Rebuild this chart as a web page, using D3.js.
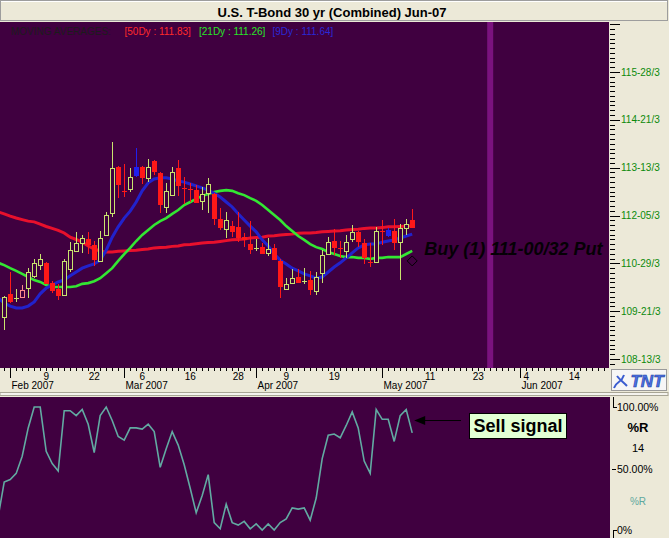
<!DOCTYPE html>
<html><head><meta charset="utf-8">
<script src="https://cdn.jsdelivr.net/npm/d3@7"></script>
<style>
body{margin:0;background:#ECE9D8;}
svg{display:block;font-family:"Liberation Sans",Arial,Helvetica,sans-serif;}
</style></head>
<body><svg id="c" width="669" height="538"></svg>
<script>
// ---------------- DATA ----------------
const title = "U.S. T-Bond 30 yr (Combined) Jun-07";
// candles: index 0 = Jan 31 2007, index 1 = Feb 1 2007 (trading days)
const open = [109.51,110.12,110.01,110.04,110.27,110.59,110.87,110.93,110.40,110.25,
  110.09,110.77,111.24,111.45,111.55,111.40,110.98,111.66,112.23,113.43,
  112.81,112.86,113.43,113.43,113.15,113.59,113.28,112.39,112.70,113.41,
  112.89,112.86,112.83,112.55,112.75,112.73,112.08,111.81,111.89,111.87,
  111.60,111.42,111.32,111.34,111.19,111.32,110.98,110.25,110.40,110.56,
  110.45,110.48,110.19,110.66,111.16,111.50,111.32,111.24,111.55,111.74,
  111.45,110.95,110.95,111.76,111.79,111.76,111.47,111.84,112.05];
const high = [110.06,110.69,110.25,110.35,110.79,111.03,111.16,110.95,110.45,110.38,
  111.03,111.47,111.74,111.66,111.74,111.50,111.76,112.26,114.09,113.46,
  113.51,113.41,113.93,113.46,113.64,113.62,113.30,113.02,113.43,113.62,
  113.17,113.02,112.96,112.91,113.15,112.75,112.36,112.26,112.02,112.26,
  111.71,112.02,111.55,111.45,111.58,111.42,111.03,110.53,110.77,110.77,
  110.79,110.72,110.69,111.26,111.60,111.81,111.50,111.66,111.92,111.76,
  111.55,111.45,111.87,112.05,111.84,112.08,111.94,112.08,112.34];
const low = [109.17,109.88,109.91,110.04,110.01,110.53,110.74,110.38,110.14,109.96,
  110.06,110.69,111.21,111.19,111.16,110.85,110.95,111.63,112.13,112.62,
  112.65,112.78,113.17,112.99,113.04,113.22,112.23,112.23,112.68,112.68,
  112.47,112.52,112.49,112.31,112.23,111.92,111.79,111.58,111.60,111.47,
  111.34,111.16,111.24,111.16,111.11,111.03,110.01,110.25,110.38,110.40,
  110.38,110.09,110.09,110.40,111.13,111.13,111.06,111.06,111.47,111.34,
  110.90,110.82,110.93,111.40,111.60,111.26,110.48,111.66,111.84];
const close = [110.04,109.93,110.01,110.22,110.69,110.93,111.03,110.40,110.22,110.09,
  110.98,111.26,111.45,111.58,111.42,111.03,111.58,112.18,113.41,112.99,
  112.81,113.17,113.22,113.17,113.43,113.33,112.47,112.81,113.30,112.96,
  112.89,112.86,112.52,112.73,112.99,112.10,111.87,112.05,111.76,111.60,
  111.55,111.29,111.32,111.19,111.29,111.03,110.32,110.38,110.53,110.43,
  110.45,110.25,110.56,111.13,111.47,111.34,111.32,111.47,111.74,111.50,
  111.08,110.95,111.76,111.76,111.66,111.47,111.84,111.94,111.87];
// candle kind: u = up (hollow), d = down (filled red), b = filled blue, p = hollow pink
const kind = ["u","d","u","p","u","u","u","d","d","d",
  "u","u","u","u","d","d","u","u","u","d",
  "d","u","b","d","u","d","d","u","u","d",
  "d","d","d","u","u","d","d","u","d","d",
  "d","d","u","d","u","d","d","u","u","d",
  "u","d","u","u","u","d","d","u","u","d",
  "d","d","u","d","b","d","u","u","d"];
// moving averages and %R start one trading day before the first candle
const seriesStart = -1;
const ma50 = [112.26,112.21,112.15,112.10,112.06,112.02,112.00,111.94,111.88,111.83,
  111.78,111.71,111.60,111.54,111.47,111.37,111.29,111.24,111.21,111.21,
  111.23,111.24,111.25,111.26,111.28,111.29,111.32,111.33,111.34,111.36,
  111.37,111.40,111.41,111.43,111.45,111.46,111.47,111.49,111.51,111.53,
  111.54,111.55,111.58,111.59,111.60,111.63,111.64,111.66,111.67,111.68,
  111.70,111.71,111.71,111.72,111.74,111.75,111.76,111.77,111.79,111.80,
  111.81,111.83,111.84,111.84,111.85,111.87,111.87,111.88,111.89,111.89];
const ma21 = [110.93,110.87,110.79,110.72,110.64,110.56,110.48,110.43,110.35,110.30,
  110.30,110.30,110.30,110.32,110.38,110.40,110.45,110.53,110.66,110.79,
  110.98,111.16,111.32,111.50,111.66,111.79,111.92,112.02,112.10,112.21,
  112.31,112.44,112.52,112.60,112.68,112.73,112.78,112.81,112.83,112.81,
  112.75,112.70,112.62,112.55,112.44,112.31,112.18,112.05,111.89,111.76,
  111.63,111.53,111.42,111.34,111.29,111.21,111.16,111.11,111.08,111.08,
  111.06,111.06,111.03,111.06,111.06,111.08,111.08,111.08,111.16,111.24];
const ma9 = [110.01,109.88,109.80,109.75,109.75,109.80,109.91,110.12,110.27,110.35,
  110.43,110.48,110.59,110.69,110.79,110.85,110.90,111.00,111.26,111.60,
  111.87,112.10,112.28,112.52,112.81,113.02,113.12,113.15,113.15,113.12,
  113.07,113.04,112.99,112.94,112.89,112.83,112.75,112.65,112.52,112.39,
  112.21,112.05,111.89,111.74,111.53,111.37,111.16,111.00,110.90,110.79,
  110.72,110.64,110.59,110.53,110.56,110.69,110.82,110.93,111.06,111.19,
  111.32,111.40,111.42,111.42,111.47,111.50,111.53,111.58,111.63,111.68];
const pctR = [11,39,41,46,60,83,100,100,64,54,
  48,97,97,93,98,86,63,93,100,89,
  76,73,83,83,82,86,80,51,66,80,
  69,53,34,14,28,45,6,1,21,6,
  4,7,1,5,0,5,0,6,9,18,
  17,18,8,26,58,77,78,75,85,96,
  83,56,46,98,90,90,72,93,98,79];
const legendItems = ["MOVING AVERAGES:","[50Dy : 111.83]","[21Dy : 111.26]","[9Dy : 111.64]"];
const priceTickValues = [108.4167,109.6667,110.9167,112.1667,113.4167,114.6667,115.9167];
const priceTickLabels = ["108-13/3","109-21/3","110-29/3","112-05/3","113-13/3","114-21/3","115-28/3"];
const monthLabels = ["Feb 2007","Mar 2007","Apr 2007","May 2007","Jun 2007"];
const monthIdx = [1,20,42,63,86];
const dayLabels = ["9","22","6","16","28","9","19","11","23","4","14"];
const dayIdx = [7,15,23,31,39,47,55,71,79,87,95];
const markerIdx = 81;           // highlighted future day (May 25)
const buyText = "Buy (1) 111-00/32 Put";
const buyIdx = 68, buyPrice = 110.98;
const sellText = "Sell signal";
const sellIdx = 68, sellLevel = 89;
const rTickValues = [100,50,0];
const rTickLabels = ["100.00%","50.00%","0%"];

// ---------------- LAYOUT ----------------
const svg = d3.select("#c");
const BG = "#400040", PANEL = "#ECE9D8";
const UP = "#c8e46e", DN = "#ff1818", BLUE = "#2020ee", PINK = "#ff8c8c";
const P = {x0:0, x1:609, y0:22, y1:368};
const L = {x0:0, x1:610, y0:397, y1:538};

const x = d3.scaleLinear().domain([-0.7, 100.8]).range([0, 609]);
const y = d3.scaleLinear().domain([108.4167, 115.9167]).range([359, 72]);
const yR = d3.scaleLinear().domain([0, 100]).range([530, 407]);

svg.append("rect").attr("width",669).attr("height",538).attr("fill",PANEL);

// title bar
svg.append("rect").attr("x",0.5).attr("y",0.5).attr("width",667).attr("height",20)
  .attr("fill",PANEL).attr("stroke","#9d9d9d");
svg.append("line").attr("x1",1).attr("x2",667).attr("y1",1.5).attr("y2",1.5).attr("stroke","#fff");
svg.append("text").attr("x",332).attr("y",17).attr("text-anchor","middle")
  .attr("font-weight","bold").attr("font-size",13).attr("fill","#000").text(title);

// main plot
const defs = svg.append("defs");
defs.append("clipPath").attr("id","cp").append("rect")
  .attr("x",P.x0).attr("y",P.y0).attr("width",P.x1-P.x0).attr("height",P.y1-P.y0);
defs.append("clipPath").attr("id","cl").append("rect")
  .attr("x",L.x0).attr("y",L.y0).attr("width",L.x1-L.x0).attr("height",L.y1-L.y0);

svg.append("rect").attr("x",P.x0).attr("y",P.y0).attr("width",P.x1-P.x0).attr("height",P.y1-P.y0).attr("fill",BG);
const g = svg.append("g").attr("clip-path","url(#cp)");

g.append("rect").attr("x",x(markerIdx-0.5)).attr("y",P.y0)
  .attr("width",x(markerIdx+0.5)-x(markerIdx-0.5)).attr("height",P.y1-P.y0)
  .attr("fill","#7a127e");

// legend
const legendX = [11,124.5,199,272.5];
const legendC = ["#1c1c1c","#ff2a2a","#28e628","#2a2ad6"];
legendItems.forEach((t,i)=>{
  svg.append("text").attr("x",legendX[i]).attr("y",34.5).attr("font-size",10)
    .attr("fill",legendC[i]).text(t);
});

// moving averages
const line = d3.line().x((d,i)=>x(i+seriesStart)).y(d=>y(d));
g.append("path").datum(ma50).attr("d",line).attr("fill","none").attr("stroke","#e8102c").attr("stroke-width",3);
g.append("path").datum(ma21).attr("d",line).attr("fill","none").attr("stroke","#33e633").attr("stroke-width",2.6);
g.append("path").datum(ma9).attr("d",line).attr("fill","none").attr("stroke","#2222cc").attr("stroke-width",3);

// candles
const colorOf = k => k==="u"?UP : k==="d"?DN : k==="b"?BLUE : PINK;
const cg = g.append("g").attr("shape-rendering","crispEdges");
open.forEach((o,i)=>{
  const c = close[i], k = kind[i], col = colorOf(k);
  const cx = Math.round(x(i)) + 0.5;
  const top = y(Math.max(o,c)), bot = y(Math.min(o,c));
  cg.append("line").attr("x1",cx).attr("x2",cx).attr("y1",y(high[i])).attr("y2",y(low[i]))
    .attr("stroke",col).attr("stroke-width",1);
  if (bot - top < 1.5) {
    cg.append("line").attr("x1",cx-2.5).attr("x2",cx+2.5).attr("y1",Math.round(top)+0.5).attr("y2",Math.round(top)+0.5)
      .attr("stroke",col).attr("stroke-width",1);
  } else if (k==="u" || k==="p") {
    cg.append("rect").attr("x",cx-2).attr("y",Math.round(top)+0.5).attr("width",4).attr("height",Math.round(bot-top))
      .attr("fill",BG).attr("stroke",col).attr("stroke-width",1);
  } else {
    cg.append("rect").attr("x",cx-2.5).attr("y",Math.round(top)).attr("width",5).attr("height",Math.round(bot-top)+1)
      .attr("fill",col);
  }
});

// buy annotation
const bx = x(buyIdx), by = y(buyPrice);
g.append("path").attr("d",`M${bx},${by-5}L${bx+5},${by}L${bx},${by+5}L${bx-5},${by}Z`)
  .attr("fill","none").attr("stroke","#000").attr("stroke-width",1);
g.append("text").attr("x",bx+12).attr("y",by-6).attr("font-size",18).attr("font-weight","bold")
  .attr("font-style","italic").attr("fill","#050005").text(buyText);

// right price axis
const ax = svg.append("g").attr("shape-rendering","crispEdges");
for (let k=-2;k<=75;k++){
  const v = priceTickValues[0] + k*0.125, yy = y(v);
  if (yy < P.y0+1 || yy > P.y1-1) continue;
  const major = (k%10===0);
  ax.append("line").attr("x1",610).attr("x2",major?620:615).attr("y1",Math.round(yy)+0.5).attr("y2",Math.round(yy)+0.5)
    .attr("stroke","#000");
}
priceTickValues.forEach((v,i)=>{
  svg.append("text").attr("x",621).attr("y",y(v)+3.5).attr("font-size",10).attr("fill","#0b8a0b").text(priceTickLabels[i]);
});

// x axis
for (let i=0;i<=100;i++){
  ax.append("line").attr("x1",Math.round(x(i))+0.5).attr("x2",Math.round(x(i))+0.5).attr("y1",368).attr("y2",371).attr("stroke","#000");
}
monthIdx.forEach((m,i)=>{
  const xx = Math.round(x(m))+0.5;
  ax.append("line").attr("x1",xx).attr("x2",xx).attr("y1",368).attr("y2",378).attr("stroke","#000");
  svg.append("text").attr("x",xx+1).attr("y",389).attr("font-size",10).attr("fill","#000").text(monthLabels[i]);
});
dayIdx.forEach((d,i)=>{
  svg.append("text").attr("x",x(d)).attr("y",379.5).attr("text-anchor","middle").attr("font-size",10).attr("fill","#000").text(dayLabels[i]);
});

// TNT logo
svg.append("rect").attr("x",611.5).attr("y",369.5).attr("width",55).attr("height",21).attr("fill","#f6f6f6").attr("stroke","#9a9a9a");
svg.append("path").attr("d","M614,388 C617,380 621,384 624,375 M617,376 C620,380 623,382 627,386")
  .attr("fill","none").attr("stroke","#3a5cd0").attr("stroke-width",2);
svg.append("text").attr("x",647).attr("y",387).attr("text-anchor","middle").attr("font-size",17)
  .attr("font-weight","bold").attr("font-style","italic").attr("fill","#4d72e6").attr("stroke","#1d3d9e").attr("stroke-width",0.6).text("TNT");

// separator
svg.append("rect").attr("x",0).attr("y",392.5).attr("width",668).attr("height",3).attr("fill","#f4f3ee").attr("stroke","#a8a595");

// lower panel
svg.append("rect").attr("x",L.x0).attr("y",L.y0).attr("width",L.x1-L.x0).attr("height",L.y1-L.y0).attr("fill",BG);
const lg = svg.append("g").attr("clip-path","url(#cl)");
const rLine = d3.line().x((d,i)=>x(i+seriesStart)).y(d=>yR(d));
lg.append("path").datum(pctR).attr("d",rLine).attr("fill","none").attr("stroke","#62aaa2").attr("stroke-width",1.6);

// sell annotation
const sx = x(sellIdx)+2, sy = yR(sellLevel);
svg.append("line").attr("x1",sx+8).attr("x2",461).attr("y1",sy).attr("y2",sy).attr("stroke","#000");
svg.append("path").attr("d",`M${sx},${sy}L${sx+11},${sy-4.5}L${sx+11},${sy+4.5}Z`).attr("fill","#000");
svg.append("rect").attr("x",469.5).attr("y",413.5).attr("width",97).attr("height",25).attr("fill","#e2ffd4").attr("stroke","#000");
svg.append("text").attr("x",518).attr("y",432).attr("text-anchor","middle").attr("font-size",18).attr("font-weight","bold").attr("fill","#000").text(sellText);

// lower right axis
const la = svg.append("g").attr("shape-rendering","crispEdges");
la.append("path").attr("d",`M613.5,397V${Math.round(yR(100))+0.5}H617`).attr("fill","none").attr("stroke","#000");
la.append("path").attr("d",`M613.5,538V${Math.round(yR(0))+0.5}H617`).attr("fill","none").attr("stroke","#000");
la.append("line").attr("x1",612).attr("x2",616).attr("y1",Math.round(yR(50))+0.5).attr("y2",Math.round(yR(50))+0.5).attr("stroke","#000");
rTickValues.forEach((v,i)=>{
  svg.append("text").attr("x",617).attr("y",yR(v)+4).attr("font-size",10.5).attr("fill","#000").text(rTickLabels[i]);
});
svg.append("text").attr("x",638).attr("y",431.5).attr("text-anchor","middle").attr("font-size",13).attr("font-weight","bold").text("%R");
svg.append("text").attr("x",638).attr("y",452).attr("text-anchor","middle").attr("font-size",11).text("14");
svg.append("text").attr("x",638).attr("y",505).attr("text-anchor","middle").attr("font-size",10).attr("fill","#5fa89e").text("%R");
</script></body></html>
